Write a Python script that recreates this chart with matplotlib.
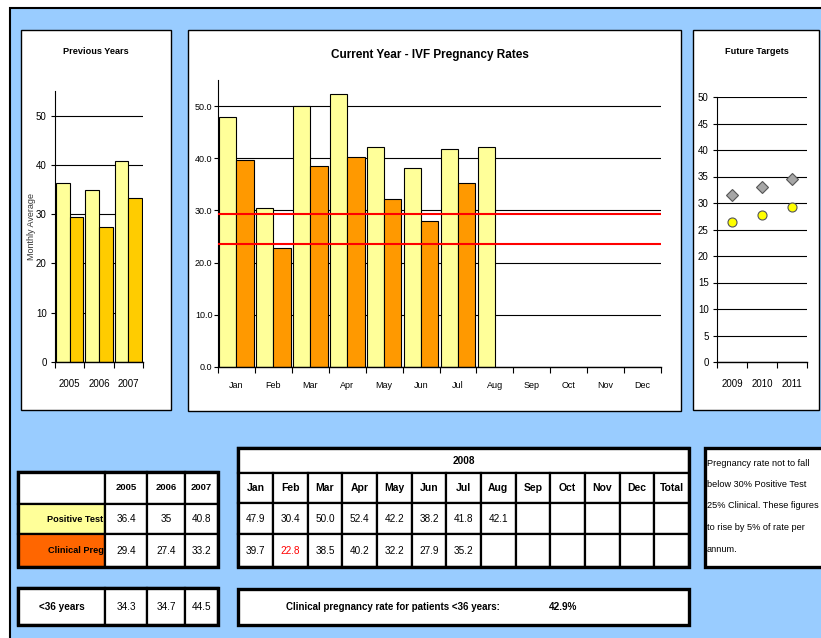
import numpy as np
import matplotlib
matplotlib.use('Agg')
import matplotlib.pyplot as plt
from matplotlib.patches import Rectangle

plt.rcParams['font.family'] = ['Liberation Sans Narrow', 'Liberation Sans', 'DejaVu Sans']

# ---- data ----
prev_years = ['2005', '2006', '2007']
prev_positive = [36.4, 35, 40.8]
prev_clinical = [29.4, 27.4, 33.2]
under36_years = [34.3, 34.7, 44.5]

months = ['Jan', 'Feb', 'Mar', 'Apr', 'May', 'Jun', 'Jul', 'Aug', 'Sep', 'Oct', 'Nov', 'Dec']
positive_2008 = [47.9, 30.4, 50.0, 52.4, 42.2, 38.2, 41.8, 42.1]
clinical_2008 = [39.7, 22.8, 38.5, 40.2, 32.2, 27.9, 35.2]
target_lines = [29.4, 23.6]

future_years = ['2009', '2010', '2011']
future_positive = [31.6, 33.1, 34.6]
future_clinical = [26.5, 27.8, 29.2]

under36_rate = '42.9%'
note_lines = ['Pregnancy rate not to fall', 'below 30% Positive Test',
              '25% Clinical. These figures', 'to rise by 5% of rate per', 'annum.']

LIGHT = '#FFFF99'
GOLD = '#FFCC00'
ORANGE = '#FF9900'
BLUE = '#99CCFF'

W, H = 821, 638
fig = plt.figure(figsize=(W / 100, H / 100), dpi=100)


def rect(x0, y0, x1, y1):
    return [x0 / W, 1 - y1 / H, (x1 - x0) / W, (y1 - y0) / H]


# background layer in pixel coords
bg = fig.add_axes([0, 0, 1, 1])
bg.set_xlim(0, W)
bg.set_ylim(H, 0)
bg.axis('off')
bg.add_patch(Rectangle((10, 8), W + 20, H + 20, facecolor=BLUE, edgecolor='black', lw=1.5))

# chart panels
for x0, y0, x1, y1 in [(21, 30, 171, 410), (188, 30, 681, 411), (693, 30, 819, 410)]:
    bg.add_patch(Rectangle((x0, y0), x1 - x0, y1 - y0, facecolor='white', edgecolor='black', lw=1))

bg.text(96, 51, 'Previous Years', ha='center', va='center', fontsize=6.6, fontweight='bold')
bg.text(430, 55, 'Current Year - IVF Pregnancy Rates', ha='center', va='center', fontsize=8.5, fontweight='bold')
bg.text(757, 51, 'Future Targets', ha='center', va='center', fontsize=6.6, fontweight='bold')
bg.text(32, 226, 'Monthly Average', ha='center', va='center', rotation=90, fontsize=6.5, color='#333333')


def style_axis(ax, n, ymax, ystep, fmt, ypad, xpad, ysize, xsize, labels):
    ax.set_facecolor('none')
    ax.set_xlim(-0.5, n - 0.5)
    ax.set_ylim(0, ymax)
    ax.set_yticks(np.arange(0, 50 + 0.01, ystep))
    ax.set_yticklabels([fmt.format(v) for v in np.arange(0, 50 + 0.01, ystep)], fontsize=ysize)
    ax.yaxis.grid(True, color='black', lw=0.8)
    ax.set_axisbelow(True)
    for s in ['top', 'right']:
        ax.spines[s].set_visible(False)
    ax.spines['left'].set_linewidth(0.8)
    ax.spines['bottom'].set_linewidth(1)
    ax.set_xticks(np.arange(n))
    ax.set_xticklabels(labels, fontsize=xsize)
    ax.set_xticks(np.arange(n + 1) - 0.5, minor=True)
    ax.tick_params(axis='x', which='major', length=0, pad=xpad)
    ax.tick_params(axis='x', which='minor', length=4, direction='out', width=0.8)
    ax.tick_params(axis='y', length=3, width=0.8, pad=ypad)


bw = 0.47

# previous years
ax1 = fig.add_axes(rect(55, 91, 143, 362))
x = np.arange(len(prev_years))
ax1.bar(x - bw / 2, prev_positive, bw, color=LIGHT, edgecolor='black', lw=0.8)
ax1.bar(x + bw / 2, prev_clinical, bw, color=GOLD, edgecolor='black', lw=0.8)
style_axis(ax1, 3, 55, 10, '{:.0f}', 3, 12, 7, 7, prev_years)

# current year
ax2 = fig.add_axes(rect(218, 80, 661, 367))
xp = np.arange(len(positive_2008))
xc = np.arange(len(clinical_2008))
ax2.bar(xp - bw / 2, positive_2008, bw, color=LIGHT, edgecolor='black', lw=0.8)
ax2.bar(xc + bw / 2, clinical_2008, bw, color=ORANGE, edgecolor='black', lw=0.8)
for v in target_lines:
    ax2.axhline(v, color='#FF0000', lw=1.5, zorder=5)
style_axis(ax2, 12, 55, 10, '{:.1f}', 1, 10, 6.5, 6.5, months)

# future targets
ax3 = fig.add_axes(rect(717, 97, 807, 362))
xf = np.arange(len(future_years))
ax3.plot(xf, future_positive, 'D', color='#A6A6A6', mec='#555555', mew=0.8, ms=6.5, zorder=4)
ax3.plot(xf, future_clinical, 'o', color='#FFFF00', mec='#555555', mew=0.8, ms=6.5, zorder=4)
style_axis(ax3, 3, 50, 5, '{:.0f}', 3, 12, 7, 7, future_years)


# ---- tables ----
def cell(x0, y0, x1, y1, txt='', fc='white', ha='center', bold=False, color='black', fs=7.2):
    bg.add_patch(Rectangle((x0, y0), x1 - x0, y1 - y0, facecolor=fc, edgecolor='black', lw=1.6))
    if txt != '':
        tx = {'center': (x0 + x1) / 2, 'right': x1 - 1.5, 'left': x0 + 3}[ha]
        bg.text(tx, (y0 + y1) / 2, txt, ha=ha, va='center', fontsize=fs, zorder=6,
                fontweight='bold' if bold else 'normal', color=color)


def frame(x0, y0, x1, y1):
    bg.add_patch(Rectangle((x0, y0), x1 - x0, y1 - y0, facecolor='none', edgecolor='black', lw=2.4))


# left table
cx = [18, 105, 147, 185, 218]
ry = [472, 504, 534, 567]
cell(cx[0], ry[0], cx[1], ry[1])
for i, yr in enumerate(prev_years):
    cell(cx[i + 1], ry[0], cx[i + 2], ry[1], yr, bold=True, fs=6.8)
cell(cx[0], ry[1], cx[1], ry[2], 'Positive Test', fc=LIGHT, ha='right', bold=True, fs=6.6)
cell(cx[0], ry[2], cx[1], ry[3], 'Clinical Preg', fc='#FF6600', ha='right', bold=True, fs=6.6)
for i in range(3):
    cell(cx[i + 1], ry[1], cx[i + 2], ry[2], '{:g}'.format(prev_positive[i]))
    cell(cx[i + 1], ry[2], cx[i + 2], ry[3], '{:g}'.format(prev_clinical[i]))
frame(cx[0], ry[0], cx[-1], ry[-1])

# <36 years row
cell(cx[0], 588, cx[1], 625, '<36 years', bold=True)
for i in range(3):
    cell(cx[i + 1], 588, cx[i + 2], 625, '{:g}'.format(under36_years[i]))
frame(cx[0], 588, cx[-1], 625)

# 2008 table
mx = np.linspace(238.3, 689, 14)
my = [448, 473, 503, 534, 567]
cell(mx[0], my[0], mx[-1], my[1], '2008', bold=True)
heads = months + ['Total']
for i, h in enumerate(heads):
    cell(mx[i], my[1], mx[i + 1], my[2], h, bold=True, fs=7.5)
    pv = '{:.1f}'.format(positive_2008[i]) if i < len(positive_2008) else ''
    cv = '{:.1f}'.format(clinical_2008[i]) if i < len(clinical_2008) else ''
    cell(mx[i], my[2], mx[i + 1], my[3], pv)
    cell(mx[i], my[3], mx[i + 1], my[4], cv, color='#FF0000' if cv == '22.8' else 'black')
frame(mx[0], my[0], mx[-1], my[-1])

# clinical rate box
bg.add_patch(Rectangle((238.3, 589), 689 - 238.3, 36, facecolor='white', edgecolor='black', lw=2.4))
bg.text(393, 607, 'Clinical pregnancy rate for patients <36 years:', ha='center', va='center',
        fontsize=7, fontweight='bold')
bg.text(563, 607, under36_rate, ha='center', va='center', fontsize=7.2, fontweight='bold')

# note box
bg.add_patch(Rectangle((705, 448), 140, 119, facecolor='white', edgecolor='black', lw=2.4))
for i, line in enumerate(note_lines):
    bg.text(707, 463 + i * 21.5, line, ha='left', va='center', fontsize=6.6)

fig.savefig('out.png', dpi=100)
